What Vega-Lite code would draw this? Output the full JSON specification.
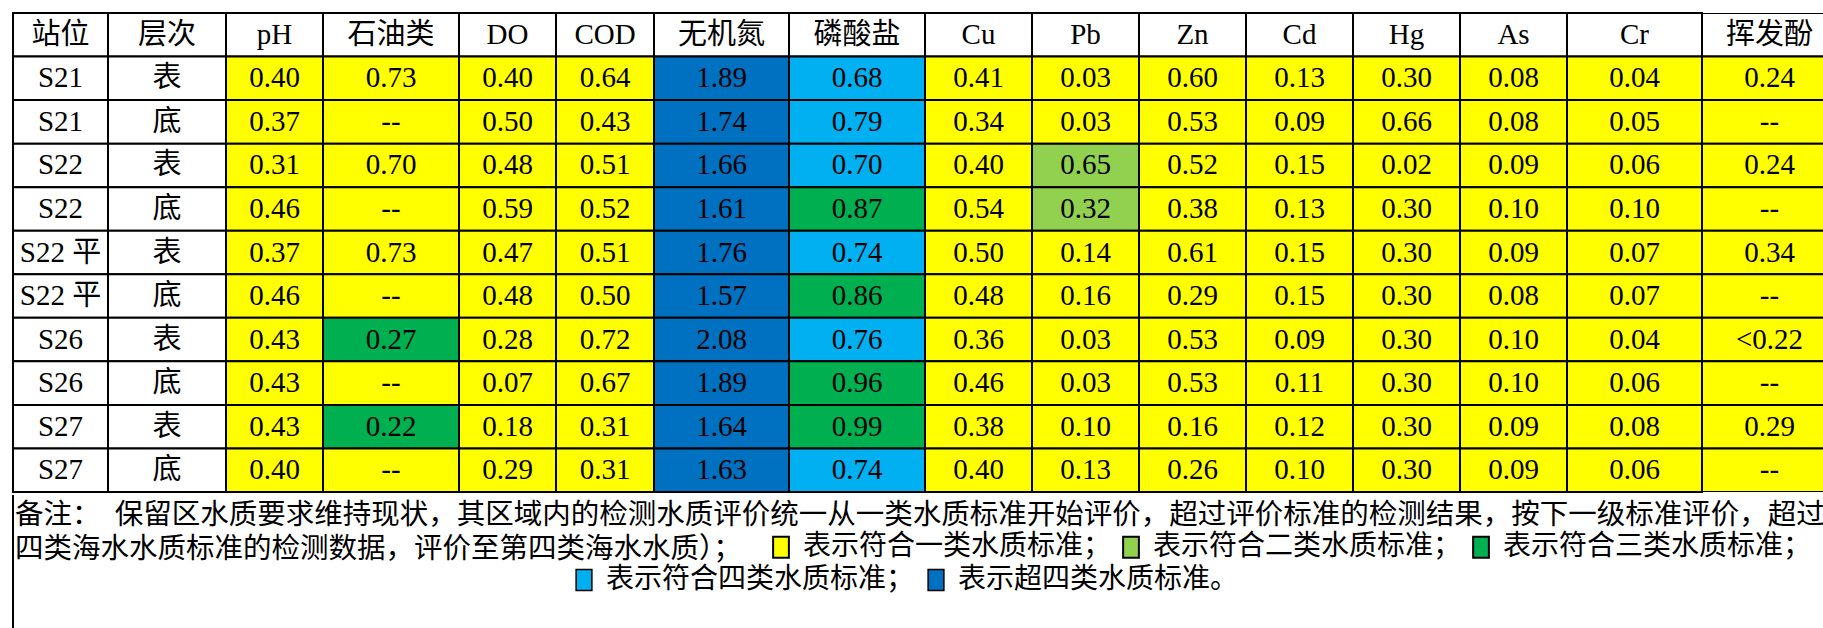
{
"$schema":"https://vega.github.io/schema/vega-lite/v6.json",
"padding":{"left":12,"top":12,"right":0,"bottom":0},
"background":"#ffffff",
"config":{"view":{"stroke":null},"concat":{"spacing":0},
 "text":{"font":"Liberation Serif, Noto Sans CJK SC","fontSize":29,"color":"#000","baseline":"middle","align":"center"},
 "rect":{"stroke":"#000","strokeWidth":2},
 "legend":{"orient":"none","direction":"horizontal","labelFont":"Noto Sans CJK SC","labelFontSize":28,"labelColor":"#000","labelLimit":600,"symbolType":"M-0.75,-1H0.75V1H-0.75Z","symbolSize":441,"symbolStrokeColor":"#000","symbolStrokeWidth":1.5,"symbolOpacity":1,"labelOffset":8,"columnPadding":5}},
"datasets":{
"notes":[
 {"line":1,"t":"备注：　保留区水质要求维持现状，其区域内的检测水质评价统一从一类水质标准开始评价，超过评价标准的检测结果，按下一级标准评价，超过第"},
 {"line":2,"t":"四类海水水质标准的检测数据，评价至第四类海水水质）；"}
],
"cells":[
{"c":"站位","r":0,"t":"站位","g":"无"},{"c":"层次","r":0,"t":"层次","g":"无"},{"c":"pH","r":0,"t":"pH","g":"无"},{"c":"石油类","r":0,"t":"石油类","g":"无"},{"c":"DO","r":0,"t":"DO","g":"无"},{"c":"COD","r":0,"t":"COD","g":"无"},{"c":"无机氮","r":0,"t":"无机氮","g":"无"},{"c":"磷酸盐","r":0,"t":"磷酸盐","g":"无"},{"c":"Cu","r":0,"t":"Cu","g":"无"},{"c":"Pb","r":0,"t":"Pb","g":"无"},{"c":"Zn","r":0,"t":"Zn","g":"无"},{"c":"Cd","r":0,"t":"Cd","g":"无"},{"c":"Hg","r":0,"t":"Hg","g":"无"},{"c":"As","r":0,"t":"As","g":"无"},{"c":"Cr","r":0,"t":"Cr","g":"无"},{"c":"挥发酚","r":0,"t":"挥发酚","g":"无"},
{"c":"站位","r":1,"t":"S21","g":"无"},{"c":"站位","r":2,"t":"S21","g":"无"},{"c":"站位","r":3,"t":"S22","g":"无"},{"c":"站位","r":4,"t":"S22","g":"无"},{"c":"站位","r":5,"t":"S22 平","g":"无"},{"c":"站位","r":6,"t":"S22 平","g":"无"},{"c":"站位","r":7,"t":"S26","g":"无"},{"c":"站位","r":8,"t":"S26","g":"无"},{"c":"站位","r":9,"t":"S27","g":"无"},{"c":"站位","r":10,"t":"S27","g":"无"},
{"c":"层次","r":1,"t":"表","g":"无"},{"c":"层次","r":2,"t":"底","g":"无"},{"c":"层次","r":3,"t":"表","g":"无"},{"c":"层次","r":4,"t":"底","g":"无"},{"c":"层次","r":5,"t":"表","g":"无"},{"c":"层次","r":6,"t":"底","g":"无"},{"c":"层次","r":7,"t":"表","g":"无"},{"c":"层次","r":8,"t":"底","g":"无"},{"c":"层次","r":9,"t":"表","g":"无"},{"c":"层次","r":10,"t":"底","g":"无"},
{"c":"pH","r":1,"t":"0.40","g":"一类"},{"c":"pH","r":2,"t":"0.37","g":"一类"},{"c":"pH","r":3,"t":"0.31","g":"一类"},{"c":"pH","r":4,"t":"0.46","g":"一类"},{"c":"pH","r":5,"t":"0.37","g":"一类"},{"c":"pH","r":6,"t":"0.46","g":"一类"},{"c":"pH","r":7,"t":"0.43","g":"一类"},{"c":"pH","r":8,"t":"0.43","g":"一类"},{"c":"pH","r":9,"t":"0.43","g":"一类"},{"c":"pH","r":10,"t":"0.40","g":"一类"},
{"c":"石油类","r":1,"t":"0.73","g":"一类"},{"c":"石油类","r":2,"t":"--","g":"一类"},{"c":"石油类","r":3,"t":"0.70","g":"一类"},{"c":"石油类","r":4,"t":"--","g":"一类"},{"c":"石油类","r":5,"t":"0.73","g":"一类"},{"c":"石油类","r":6,"t":"--","g":"一类"},{"c":"石油类","r":7,"t":"0.27","g":"三类"},{"c":"石油类","r":8,"t":"--","g":"一类"},{"c":"石油类","r":9,"t":"0.22","g":"三类"},{"c":"石油类","r":10,"t":"--","g":"一类"},
{"c":"DO","r":1,"t":"0.40","g":"一类"},{"c":"DO","r":2,"t":"0.50","g":"一类"},{"c":"DO","r":3,"t":"0.48","g":"一类"},{"c":"DO","r":4,"t":"0.59","g":"一类"},{"c":"DO","r":5,"t":"0.47","g":"一类"},{"c":"DO","r":6,"t":"0.48","g":"一类"},{"c":"DO","r":7,"t":"0.28","g":"一类"},{"c":"DO","r":8,"t":"0.07","g":"一类"},{"c":"DO","r":9,"t":"0.18","g":"一类"},{"c":"DO","r":10,"t":"0.29","g":"一类"},
{"c":"COD","r":1,"t":"0.64","g":"一类"},{"c":"COD","r":2,"t":"0.43","g":"一类"},{"c":"COD","r":3,"t":"0.51","g":"一类"},{"c":"COD","r":4,"t":"0.52","g":"一类"},{"c":"COD","r":5,"t":"0.51","g":"一类"},{"c":"COD","r":6,"t":"0.50","g":"一类"},{"c":"COD","r":7,"t":"0.72","g":"一类"},{"c":"COD","r":8,"t":"0.67","g":"一类"},{"c":"COD","r":9,"t":"0.31","g":"一类"},{"c":"COD","r":10,"t":"0.31","g":"一类"},
{"c":"无机氮","r":1,"t":"1.89","g":"超四类"},{"c":"无机氮","r":2,"t":"1.74","g":"超四类"},{"c":"无机氮","r":3,"t":"1.66","g":"超四类"},{"c":"无机氮","r":4,"t":"1.61","g":"超四类"},{"c":"无机氮","r":5,"t":"1.76","g":"超四类"},{"c":"无机氮","r":6,"t":"1.57","g":"超四类"},{"c":"无机氮","r":7,"t":"2.08","g":"超四类"},{"c":"无机氮","r":8,"t":"1.89","g":"超四类"},{"c":"无机氮","r":9,"t":"1.64","g":"超四类"},{"c":"无机氮","r":10,"t":"1.63","g":"超四类"},
{"c":"磷酸盐","r":1,"t":"0.68","g":"四类"},{"c":"磷酸盐","r":2,"t":"0.79","g":"四类"},{"c":"磷酸盐","r":3,"t":"0.70","g":"四类"},{"c":"磷酸盐","r":4,"t":"0.87","g":"三类"},{"c":"磷酸盐","r":5,"t":"0.74","g":"四类"},{"c":"磷酸盐","r":6,"t":"0.86","g":"三类"},{"c":"磷酸盐","r":7,"t":"0.76","g":"四类"},{"c":"磷酸盐","r":8,"t":"0.96","g":"三类"},{"c":"磷酸盐","r":9,"t":"0.99","g":"三类"},{"c":"磷酸盐","r":10,"t":"0.74","g":"四类"},
{"c":"Cu","r":1,"t":"0.41","g":"一类"},{"c":"Cu","r":2,"t":"0.34","g":"一类"},{"c":"Cu","r":3,"t":"0.40","g":"一类"},{"c":"Cu","r":4,"t":"0.54","g":"一类"},{"c":"Cu","r":5,"t":"0.50","g":"一类"},{"c":"Cu","r":6,"t":"0.48","g":"一类"},{"c":"Cu","r":7,"t":"0.36","g":"一类"},{"c":"Cu","r":8,"t":"0.46","g":"一类"},{"c":"Cu","r":9,"t":"0.38","g":"一类"},{"c":"Cu","r":10,"t":"0.40","g":"一类"},
{"c":"Pb","r":1,"t":"0.03","g":"一类"},{"c":"Pb","r":2,"t":"0.03","g":"一类"},{"c":"Pb","r":3,"t":"0.65","g":"二类"},{"c":"Pb","r":4,"t":"0.32","g":"二类"},{"c":"Pb","r":5,"t":"0.14","g":"一类"},{"c":"Pb","r":6,"t":"0.16","g":"一类"},{"c":"Pb","r":7,"t":"0.03","g":"一类"},{"c":"Pb","r":8,"t":"0.03","g":"一类"},{"c":"Pb","r":9,"t":"0.10","g":"一类"},{"c":"Pb","r":10,"t":"0.13","g":"一类"},
{"c":"Zn","r":1,"t":"0.60","g":"一类"},{"c":"Zn","r":2,"t":"0.53","g":"一类"},{"c":"Zn","r":3,"t":"0.52","g":"一类"},{"c":"Zn","r":4,"t":"0.38","g":"一类"},{"c":"Zn","r":5,"t":"0.61","g":"一类"},{"c":"Zn","r":6,"t":"0.29","g":"一类"},{"c":"Zn","r":7,"t":"0.53","g":"一类"},{"c":"Zn","r":8,"t":"0.53","g":"一类"},{"c":"Zn","r":9,"t":"0.16","g":"一类"},{"c":"Zn","r":10,"t":"0.26","g":"一类"},
{"c":"Cd","r":1,"t":"0.13","g":"一类"},{"c":"Cd","r":2,"t":"0.09","g":"一类"},{"c":"Cd","r":3,"t":"0.15","g":"一类"},{"c":"Cd","r":4,"t":"0.13","g":"一类"},{"c":"Cd","r":5,"t":"0.15","g":"一类"},{"c":"Cd","r":6,"t":"0.15","g":"一类"},{"c":"Cd","r":7,"t":"0.09","g":"一类"},{"c":"Cd","r":8,"t":"0.11","g":"一类"},{"c":"Cd","r":9,"t":"0.12","g":"一类"},{"c":"Cd","r":10,"t":"0.10","g":"一类"},
{"c":"Hg","r":1,"t":"0.30","g":"一类"},{"c":"Hg","r":2,"t":"0.66","g":"一类"},{"c":"Hg","r":3,"t":"0.02","g":"一类"},{"c":"Hg","r":4,"t":"0.30","g":"一类"},{"c":"Hg","r":5,"t":"0.30","g":"一类"},{"c":"Hg","r":6,"t":"0.30","g":"一类"},{"c":"Hg","r":7,"t":"0.30","g":"一类"},{"c":"Hg","r":8,"t":"0.30","g":"一类"},{"c":"Hg","r":9,"t":"0.30","g":"一类"},{"c":"Hg","r":10,"t":"0.30","g":"一类"},
{"c":"As","r":1,"t":"0.08","g":"一类"},{"c":"As","r":2,"t":"0.08","g":"一类"},{"c":"As","r":3,"t":"0.09","g":"一类"},{"c":"As","r":4,"t":"0.10","g":"一类"},{"c":"As","r":5,"t":"0.09","g":"一类"},{"c":"As","r":6,"t":"0.08","g":"一类"},{"c":"As","r":7,"t":"0.10","g":"一类"},{"c":"As","r":8,"t":"0.10","g":"一类"},{"c":"As","r":9,"t":"0.09","g":"一类"},{"c":"As","r":10,"t":"0.09","g":"一类"},
{"c":"Cr","r":1,"t":"0.04","g":"一类"},{"c":"Cr","r":2,"t":"0.05","g":"一类"},{"c":"Cr","r":3,"t":"0.06","g":"一类"},{"c":"Cr","r":4,"t":"0.10","g":"一类"},{"c":"Cr","r":5,"t":"0.07","g":"一类"},{"c":"Cr","r":6,"t":"0.07","g":"一类"},{"c":"Cr","r":7,"t":"0.04","g":"一类"},{"c":"Cr","r":8,"t":"0.06","g":"一类"},{"c":"Cr","r":9,"t":"0.08","g":"一类"},{"c":"Cr","r":10,"t":"0.06","g":"一类"},
{"c":"挥发酚","r":1,"t":"0.24","g":"一类"},{"c":"挥发酚","r":2,"t":"--","g":"一类"},{"c":"挥发酚","r":3,"t":"0.24","g":"一类"},{"c":"挥发酚","r":4,"t":"--","g":"一类"},{"c":"挥发酚","r":5,"t":"0.34","g":"一类"},{"c":"挥发酚","r":6,"t":"--","g":"一类"},{"c":"挥发酚","r":7,"t":"<0.22","g":"一类"},{"c":"挥发酚","r":8,"t":"--","g":"一类"},{"c":"挥发酚","r":9,"t":"0.29","g":"一类"},{"c":"挥发酚","r":10,"t":"--","g":"一类"}
]},
"data":{"name":"cells"},
"vconcat":[
{"bounds":"flush","hconcat":[
{"width":95,"height":479,"transform":[{"filter":{"field":"c","equal":"站位"}}],"encoding":{"x":{"field":"c","type":"nominal","axis":null,"scale":{"paddingInner":0,"paddingOuter":0}},"y":{"field":"r","type":"ordinal","axis":null,"scale":{"domain":[0,1,2,3,4,5,6,7,8,9,10],"paddingInner":0,"paddingOuter":0}}},
 "layer":[{"mark":"rect","encoding":{"fill":{"field":"g","type":"nominal","scale":{"domain":["一类","二类","三类","四类","超四类","无"],"range":["#FFFF00","#92D050","#00B050","#00B0F0","#0070C0","#FFFFFF"]},"legend":{"values":["一类","二类","三类"],"legendX":754,"legendY":520,"title":null,"labelExpr":"'表示符合' + datum.label + '水质标准；'"}}}},{"mark":"text","encoding":{"text":{"field":"t"}}}]},
{"width":118,"height":479,"transform":[{"filter":{"field":"c","equal":"层次"}}],"encoding":{"x":{"field":"c","type":"nominal","axis":null,"scale":{"paddingInner":0,"paddingOuter":0}},"y":{"field":"r","type":"ordinal","axis":null,"scale":{"domain":[0,1,2,3,4,5,6,7,8,9,10],"paddingInner":0,"paddingOuter":0}}},
 "layer":[{"mark":"rect","encoding":{"fill":{"field":"g","type":"nominal","scale":{"domain":["一类","二类","三类","四类","超四类","无"],"range":["#FFFF00","#92D050","#00B050","#00B0F0","#0070C0","#FFFFFF"]},"legend":{"values":["一类","二类","三类"],"legendX":754,"legendY":520,"title":null,"labelExpr":"'表示符合' + datum.label + '水质标准；'"}}}},{"mark":"text","encoding":{"text":{"field":"t"}}}]},
{"width":97,"height":479,"transform":[{"filter":{"field":"c","equal":"pH"}}],"encoding":{"x":{"field":"c","type":"nominal","axis":null,"scale":{"paddingInner":0,"paddingOuter":0}},"y":{"field":"r","type":"ordinal","axis":null,"scale":{"domain":[0,1,2,3,4,5,6,7,8,9,10],"paddingInner":0,"paddingOuter":0}}},
 "layer":[{"mark":"rect","encoding":{"fill":{"field":"g","type":"nominal","scale":{"domain":["一类","二类","三类","四类","超四类","无"],"range":["#FFFF00","#92D050","#00B050","#00B0F0","#0070C0","#FFFFFF"]},"legend":{"values":["一类","二类","三类"],"legendX":754,"legendY":520,"title":null,"labelExpr":"'表示符合' + datum.label + '水质标准；'"}}}},{"mark":"text","encoding":{"text":{"field":"t"}}}]},
{"width":136,"height":479,"transform":[{"filter":{"field":"c","equal":"石油类"}}],"encoding":{"x":{"field":"c","type":"nominal","axis":null,"scale":{"paddingInner":0,"paddingOuter":0}},"y":{"field":"r","type":"ordinal","axis":null,"scale":{"domain":[0,1,2,3,4,5,6,7,8,9,10],"paddingInner":0,"paddingOuter":0}}},
 "layer":[{"mark":"rect","encoding":{"fill":{"field":"g","type":"nominal","scale":{"domain":["一类","二类","三类","四类","超四类","无"],"range":["#FFFF00","#92D050","#00B050","#00B0F0","#0070C0","#FFFFFF"]},"legend":{"values":["一类","二类","三类"],"legendX":754,"legendY":520,"title":null,"labelExpr":"'表示符合' + datum.label + '水质标准；'"}}}},{"mark":"text","encoding":{"text":{"field":"t"}}}]},
{"width":97,"height":479,"transform":[{"filter":{"field":"c","equal":"DO"}}],"encoding":{"x":{"field":"c","type":"nominal","axis":null,"scale":{"paddingInner":0,"paddingOuter":0}},"y":{"field":"r","type":"ordinal","axis":null,"scale":{"domain":[0,1,2,3,4,5,6,7,8,9,10],"paddingInner":0,"paddingOuter":0}}},
 "layer":[{"mark":"rect","encoding":{"fill":{"field":"g","type":"nominal","scale":{"domain":["一类","二类","三类","四类","超四类","无"],"range":["#FFFF00","#92D050","#00B050","#00B0F0","#0070C0","#FFFFFF"]},"legend":{"values":["一类","二类","三类"],"legendX":754,"legendY":520,"title":null,"labelExpr":"'表示符合' + datum.label + '水质标准；'"}}}},{"mark":"text","encoding":{"text":{"field":"t"}}}]},
{"width":98,"height":479,"transform":[{"filter":{"field":"c","equal":"COD"}}],"encoding":{"x":{"field":"c","type":"nominal","axis":null,"scale":{"paddingInner":0,"paddingOuter":0}},"y":{"field":"r","type":"ordinal","axis":null,"scale":{"domain":[0,1,2,3,4,5,6,7,8,9,10],"paddingInner":0,"paddingOuter":0}}},
 "layer":[{"mark":"rect","encoding":{"fill":{"field":"g","type":"nominal","scale":{"domain":["一类","二类","三类","四类","超四类","无"],"range":["#FFFF00","#92D050","#00B050","#00B0F0","#0070C0","#FFFFFF"]},"legend":{"values":["一类","二类","三类"],"legendX":754,"legendY":520,"title":null,"labelExpr":"'表示符合' + datum.label + '水质标准；'"}}}},{"mark":"text","encoding":{"text":{"field":"t"}}}]},
{"width":135,"height":479,"transform":[{"filter":{"field":"c","equal":"无机氮"}}],"encoding":{"x":{"field":"c","type":"nominal","axis":null,"scale":{"paddingInner":0,"paddingOuter":0}},"y":{"field":"r","type":"ordinal","axis":null,"scale":{"domain":[0,1,2,3,4,5,6,7,8,9,10],"paddingInner":0,"paddingOuter":0}}},
 "layer":[{"mark":"rect","encoding":{"fill":{"field":"g","type":"nominal","scale":{"domain":["一类","二类","三类","四类","超四类","无"],"range":["#FFFF00","#92D050","#00B050","#00B0F0","#0070C0","#FFFFFF"]},"legend":{"values":["一类","二类","三类"],"legendX":754,"legendY":520,"title":null,"labelExpr":"'表示符合' + datum.label + '水质标准；'"}}}},{"mark":"text","encoding":{"text":{"field":"t"}}}]},
{"width":136,"height":479,"transform":[{"filter":{"field":"c","equal":"磷酸盐"}}],"encoding":{"x":{"field":"c","type":"nominal","axis":null,"scale":{"paddingInner":0,"paddingOuter":0}},"y":{"field":"r","type":"ordinal","axis":null,"scale":{"domain":[0,1,2,3,4,5,6,7,8,9,10],"paddingInner":0,"paddingOuter":0}}},
 "layer":[{"mark":"rect","encoding":{"fill":{"field":"g","type":"nominal","scale":{"domain":["一类","二类","三类","四类","超四类","无"],"range":["#FFFF00","#92D050","#00B050","#00B0F0","#0070C0","#FFFFFF"]},"legend":{"values":["一类","二类","三类"],"legendX":754,"legendY":520,"title":null,"labelExpr":"'表示符合' + datum.label + '水质标准；'"}}}},{"mark":"text","encoding":{"text":{"field":"t"}}}]},
{"width":107,"height":479,"transform":[{"filter":{"field":"c","equal":"Cu"}}],"encoding":{"x":{"field":"c","type":"nominal","axis":null,"scale":{"paddingInner":0,"paddingOuter":0}},"y":{"field":"r","type":"ordinal","axis":null,"scale":{"domain":[0,1,2,3,4,5,6,7,8,9,10],"paddingInner":0,"paddingOuter":0}}},
 "layer":[{"mark":"rect","encoding":{"fill":{"field":"g","type":"nominal","scale":{"domain":["一类","二类","三类","四类","超四类","无"],"range":["#FFFF00","#92D050","#00B050","#00B0F0","#0070C0","#FFFFFF"]},"legend":{"values":["一类","二类","三类"],"legendX":754,"legendY":520,"title":null,"labelExpr":"'表示符合' + datum.label + '水质标准；'"}}}},{"mark":"text","encoding":{"text":{"field":"t"}}}]},
{"width":107,"height":479,"transform":[{"filter":{"field":"c","equal":"Pb"}}],"encoding":{"x":{"field":"c","type":"nominal","axis":null,"scale":{"paddingInner":0,"paddingOuter":0}},"y":{"field":"r","type":"ordinal","axis":null,"scale":{"domain":[0,1,2,3,4,5,6,7,8,9,10],"paddingInner":0,"paddingOuter":0}}},
 "layer":[{"mark":"rect","encoding":{"fill":{"field":"g","type":"nominal","scale":{"domain":["一类","二类","三类","四类","超四类","无"],"range":["#FFFF00","#92D050","#00B050","#00B0F0","#0070C0","#FFFFFF"]},"legend":{"values":["一类","二类","三类"],"legendX":754,"legendY":520,"title":null,"labelExpr":"'表示符合' + datum.label + '水质标准；'"}}}},{"mark":"text","encoding":{"text":{"field":"t"}}}]},
{"width":107,"height":479,"transform":[{"filter":{"field":"c","equal":"Zn"}}],"encoding":{"x":{"field":"c","type":"nominal","axis":null,"scale":{"paddingInner":0,"paddingOuter":0}},"y":{"field":"r","type":"ordinal","axis":null,"scale":{"domain":[0,1,2,3,4,5,6,7,8,9,10],"paddingInner":0,"paddingOuter":0}}},
 "layer":[{"mark":"rect","encoding":{"fill":{"field":"g","type":"nominal","scale":{"domain":["一类","二类","三类","四类","超四类","无"],"range":["#FFFF00","#92D050","#00B050","#00B0F0","#0070C0","#FFFFFF"]},"legend":{"values":["一类","二类","三类"],"legendX":754,"legendY":520,"title":null,"labelExpr":"'表示符合' + datum.label + '水质标准；'"}}}},{"mark":"text","encoding":{"text":{"field":"t"}}}]},
{"width":107,"height":479,"transform":[{"filter":{"field":"c","equal":"Cd"}}],"encoding":{"x":{"field":"c","type":"nominal","axis":null,"scale":{"paddingInner":0,"paddingOuter":0}},"y":{"field":"r","type":"ordinal","axis":null,"scale":{"domain":[0,1,2,3,4,5,6,7,8,9,10],"paddingInner":0,"paddingOuter":0}}},
 "layer":[{"mark":"rect","encoding":{"fill":{"field":"g","type":"nominal","scale":{"domain":["一类","二类","三类","四类","超四类","无"],"range":["#FFFF00","#92D050","#00B050","#00B0F0","#0070C0","#FFFFFF"]},"legend":{"values":["一类","二类","三类"],"legendX":754,"legendY":520,"title":null,"labelExpr":"'表示符合' + datum.label + '水质标准；'"}}}},{"mark":"text","encoding":{"text":{"field":"t"}}}]},
{"width":107,"height":479,"transform":[{"filter":{"field":"c","equal":"Hg"}}],"encoding":{"x":{"field":"c","type":"nominal","axis":null,"scale":{"paddingInner":0,"paddingOuter":0}},"y":{"field":"r","type":"ordinal","axis":null,"scale":{"domain":[0,1,2,3,4,5,6,7,8,9,10],"paddingInner":0,"paddingOuter":0}}},
 "layer":[{"mark":"rect","encoding":{"fill":{"field":"g","type":"nominal","scale":{"domain":["一类","二类","三类","四类","超四类","无"],"range":["#FFFF00","#92D050","#00B050","#00B0F0","#0070C0","#FFFFFF"]},"legend":{"values":["一类","二类","三类"],"legendX":754,"legendY":520,"title":null,"labelExpr":"'表示符合' + datum.label + '水质标准；'"}}}},{"mark":"text","encoding":{"text":{"field":"t"}}}]},
{"width":107,"height":479,"transform":[{"filter":{"field":"c","equal":"As"}}],"encoding":{"x":{"field":"c","type":"nominal","axis":null,"scale":{"paddingInner":0,"paddingOuter":0}},"y":{"field":"r","type":"ordinal","axis":null,"scale":{"domain":[0,1,2,3,4,5,6,7,8,9,10],"paddingInner":0,"paddingOuter":0}}},
 "layer":[{"mark":"rect","encoding":{"fill":{"field":"g","type":"nominal","scale":{"domain":["一类","二类","三类","四类","超四类","无"],"range":["#FFFF00","#92D050","#00B050","#00B0F0","#0070C0","#FFFFFF"]},"legend":{"values":["一类","二类","三类"],"legendX":754,"legendY":520,"title":null,"labelExpr":"'表示符合' + datum.label + '水质标准；'"}}}},{"mark":"text","encoding":{"text":{"field":"t"}}}]},
{"width":135,"height":479,"transform":[{"filter":{"field":"c","equal":"Cr"}}],"encoding":{"x":{"field":"c","type":"nominal","axis":null,"scale":{"paddingInner":0,"paddingOuter":0}},"y":{"field":"r","type":"ordinal","axis":null,"scale":{"domain":[0,1,2,3,4,5,6,7,8,9,10],"paddingInner":0,"paddingOuter":0}}},
 "layer":[{"mark":"rect","encoding":{"fill":{"field":"g","type":"nominal","scale":{"domain":["一类","二类","三类","四类","超四类","无"],"range":["#FFFF00","#92D050","#00B050","#00B0F0","#0070C0","#FFFFFF"]},"legend":{"values":["一类","二类","三类"],"legendX":754,"legendY":520,"title":null,"labelExpr":"'表示符合' + datum.label + '水质标准；'"}}}},{"mark":"text","encoding":{"text":{"field":"t"}}}]},
{"width":122,"height":479,"transform":[{"filter":{"field":"c","equal":"挥发酚"}}],"encoding":{"x":{"field":"c","type":"nominal","axis":null,"scale":{"range":[0,135],"paddingInner":0,"paddingOuter":0}},"y":{"field":"r","type":"ordinal","axis":null,"scale":{"domain":[0,1,2,3,4,5,6,7,8,9,10],"paddingInner":0,"paddingOuter":0}}},
 "layer":[{"mark":{"type":"rect","clip":true},"encoding":{"fill":{"field":"g","type":"nominal","scale":{"domain":["一类","二类","三类","四类","超四类","无"],"range":["#FFFF00","#92D050","#00B050","#00B0F0","#0070C0","#FFFFFF"]},"legend":{"values":["一类","二类","三类"],"legendX":754,"legendY":520,"title":null,"labelExpr":"'表示符合' + datum.label + '水质标准；'"}}}},{"mark":{"type":"text","clip":true},"encoding":{"text":{"field":"t"}}}]}
]},
{"width":1811,"height":136,
 "layer":[
  {"data":{"values":[{}]},"mark":{"type":"rule","stroke":"#000","strokeWidth":2},"encoding":{"x":{"value":0},"y":{"value":0},"y2":{"value":"height"}}},
  {"data":{"name":"notes"},"mark":{"type":"text","align":"left","baseline":"middle","font":"Noto Sans CJK SC","fontSize":28.5,"dx":2,"dy":3,"clip":true},"encoding":{"x":{"value":0},"y":{"field":"line","type":"ordinal","axis":null,"scale":{"domain":[1,2,3,4],"paddingInner":0,"paddingOuter":0}},"text":{"field":"t"}}},
  {"transform":[{"filter":{"field":"g","oneOf":["四类","超四类"]}}],"mark":{"type":"point","opacity":0,"filled":true},
   "encoding":{"color":{"field":"g","type":"nominal","scale":{"domain":["四类","超四类"],"range":["#00B0F0","#0070C0"]},
    "legend":{"legendX":557,"legendY":553,"title":null,"columnPadding":7,"labelExpr":"datum.label == '超四类' ? '表示超四类水质标准。' : '表示符合四类水质标准；'"}}}}
 ]}
]
}
